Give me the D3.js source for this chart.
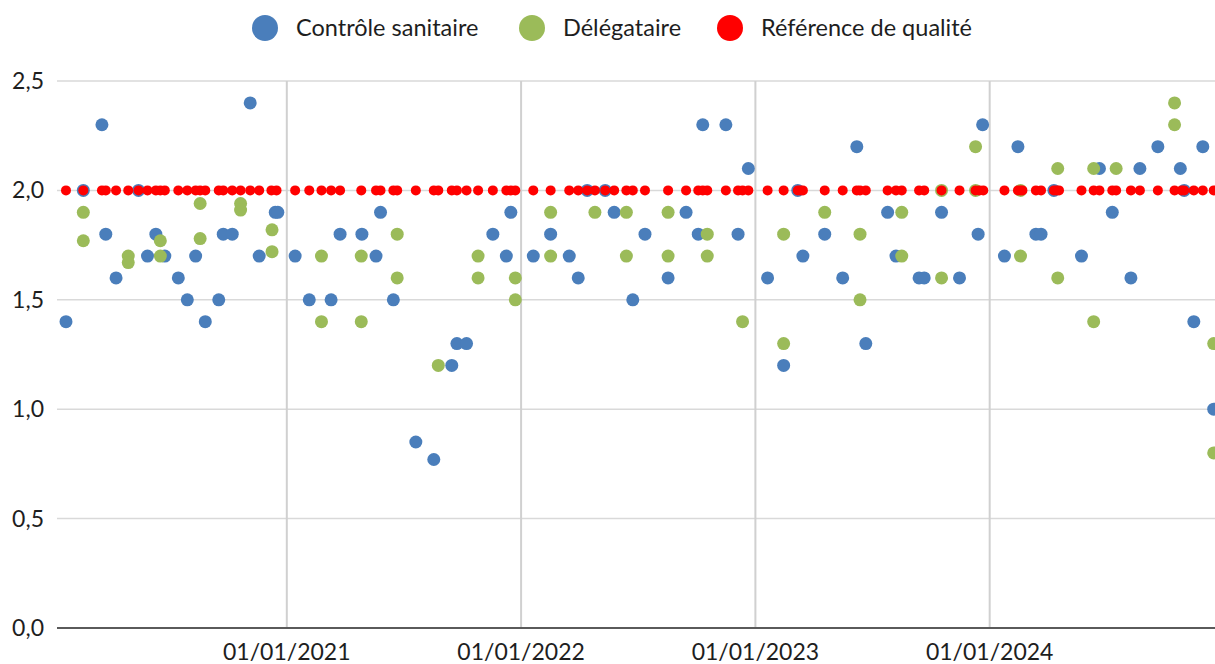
<!DOCTYPE html>
<html>
<head>
<meta charset="utf-8">
<script src="https://cdn.jsdelivr.net/npm/d3@7"></script>
<style>
  body { margin: 0; background: #fff; }
  svg { display: block; font-family: Lato, 'Open Sans', sans-serif; }
</style>
</head>
<body>
<svg id="chart" width="1215" height="664"></svg>
<script>
// Contrôle sanitaire (blue)
const controleDates = [
  '2020-01-23','2020-02-19','2020-03-19','2020-03-25','2020-04-10','2020-05-15','2020-05-29','2020-06-11','2020-06-25','2020-07-16',
  '2020-07-30','2020-08-12','2020-08-27','2020-09-17','2020-09-24','2020-10-08','2020-11-05','2020-11-19','2020-12-14','2020-12-18',
  '2021-01-14','2021-02-05','2021-03-11','2021-03-25','2021-04-28','2021-05-20','2021-05-27','2021-06-16','2021-07-21','2021-08-18',
  '2021-09-15','2021-09-23','2021-10-08','2021-11-18','2021-12-09','2021-12-16',
  '2022-01-20','2022-02-16','2022-03-17','2022-03-31','2022-04-14','2022-05-12','2022-05-26','2022-06-24','2022-07-13','2022-08-18',
  '2022-09-15','2022-10-04','2022-10-11','2022-11-16','2022-12-05','2022-12-21',
  '2023-01-20','2023-02-14','2023-03-08','2023-03-16','2023-04-19','2023-05-17','2023-06-08','2023-06-22','2023-07-26','2023-08-08',
  '2023-09-13','2023-09-21','2023-10-18','2023-11-15','2023-12-14','2023-12-21',
  '2024-01-24','2024-02-14','2024-03-13','2024-03-21','2024-04-10','2024-05-23','2024-06-20','2024-07-10','2024-08-08','2024-08-22',
  '2024-09-19','2024-10-24','2024-10-30','2024-11-14','2024-11-28','2024-12-15'
];
const controleValues = [
  1.4, 2.0, 2.3, 1.8, 1.6, 2.0, 1.7, 1.8, 1.7, 1.6,
  1.5, 1.7, 1.4, 1.5, 1.8, 1.8, 2.4, 1.7, 1.9, 1.9,
  1.7, 1.5, 1.5, 1.8, 1.8, 1.7, 1.9, 1.5, 0.85, 0.77,
  1.2, 1.3, 1.3, 1.8, 1.7, 1.9,
  1.7, 1.8, 1.7, 1.6, 2.0, 2.0, 1.9, 1.5, 1.8, 1.6,
  1.9, 1.8, 2.3, 2.3, 1.8, 2.1,
  1.6, 1.2, 2.0, 1.7, 1.8, 1.6, 2.2, 1.3, 1.9, 1.7,
  1.6, 1.6, 1.9, 1.6, 1.8, 2.3,
  1.7, 2.2, 1.8, 1.8, 2.0, 1.7, 2.1, 1.9, 1.6, 2.1,
  2.2, 2.1, 2.0, 1.4, 2.2, 1.0
];

// Délégataire (green)
const delegataireDates = [
  '2020-02-19','2020-02-19','2020-04-29','2020-04-29','2020-06-18','2020-06-18','2020-08-19','2020-08-19','2020-10-21','2020-10-21',
  '2020-12-09','2020-12-09',
  '2021-02-24','2021-02-24','2021-04-27','2021-04-27','2021-06-22','2021-06-22','2021-08-25','2021-10-26','2021-10-26','2021-12-23',
  '2021-12-23',
  '2022-02-16','2022-02-16','2022-04-26','2022-06-14','2022-06-14','2022-08-18','2022-08-18','2022-10-18','2022-10-18','2022-12-12',
  '2023-02-14','2023-02-14','2023-04-19','2023-06-13','2023-06-13','2023-08-17','2023-08-17','2023-10-18','2023-10-18','2023-12-10',
  '2023-12-10',
  '2024-02-18','2024-02-18','2024-04-16','2024-04-16','2024-06-11','2024-06-11','2024-07-16','2024-10-15','2024-10-15','2024-12-15',
  '2024-12-15'
];
const delegataireValues = [
  1.9, 1.77, 1.70, 1.67, 1.77, 1.70, 1.94, 1.78, 1.94, 1.91,
  1.82, 1.72,
  1.7, 1.4, 1.7, 1.4, 1.8, 1.6, 1.2, 1.7, 1.6, 1.6,
  1.5,
  1.9, 1.7, 1.9, 1.9, 1.7, 1.9, 1.7, 1.8, 1.7, 1.4,
  1.8, 1.3, 1.9, 1.8, 1.5, 1.9, 1.7, 2.0, 1.6, 2.2,
  2.0,
  2.0, 1.7, 2.1, 1.6, 2.1, 1.4, 2.1, 2.4, 2.3, 1.3,
  0.8
];

// Référence de qualité (red), constant value on every sampling date
const referenceValue = 2.0;
const referenceDates = [
  '2020-01-23','2020-02-19','2020-03-19','2020-03-25','2020-04-10','2020-04-29','2020-05-15','2020-05-29','2020-06-11','2020-06-18',
  '2020-06-25','2020-07-16','2020-07-30','2020-08-12','2020-08-19','2020-08-27','2020-09-17','2020-09-24','2020-10-08','2020-10-21',
  '2020-11-05','2020-11-19','2020-12-08','2020-12-16',
  '2021-01-14','2021-02-05','2021-02-24','2021-03-11','2021-03-25','2021-04-27','2021-05-20','2021-05-27','2021-06-16','2021-06-22',
  '2021-07-21','2021-08-18','2021-08-25','2021-09-15','2021-09-23','2021-10-08','2021-10-26','2021-11-18','2021-12-09','2021-12-16',
  '2021-12-23',
  '2022-01-20','2022-02-16','2022-03-17','2022-03-31','2022-04-14','2022-04-26','2022-05-12','2022-05-26','2022-06-14','2022-06-24',
  '2022-07-13','2022-08-18','2022-09-15','2022-10-04','2022-10-11','2022-10-18','2022-11-16','2022-12-05','2022-12-12','2022-12-21',
  '2023-01-20','2023-02-14','2023-03-08','2023-03-12','2023-03-16','2023-04-19','2023-05-17','2023-06-08','2023-06-13','2023-06-22',
  '2023-07-26','2023-08-08','2023-08-17','2023-09-13','2023-09-21','2023-10-18','2023-11-15','2023-12-10','2023-12-16','2023-12-22',
  '2024-01-24','2024-02-14','2024-02-18','2024-02-21','2024-03-13','2024-03-21','2024-04-10','2024-04-14','2024-04-18','2024-05-23',
  '2024-06-11','2024-06-20','2024-07-10','2024-07-16','2024-08-08','2024-08-22','2024-09-19','2024-10-15','2024-10-26','2024-10-30',
  '2024-11-14','2024-11-28','2024-12-15'
];

// Axes
const xDomain = ['2020-01-09', '2024-12-17'];
const xTickDates = ['2021-01-01', '2022-01-01', '2023-01-01', '2024-01-01'];
const yTicks = [0, 0.5, 1.0, 1.5, 2.0, 2.5];

const legendItems = [
  { label: 'Contrôle sanitaire', color: '#4a7ebb' },
  { label: 'Délégataire', color: '#9bbb59' },
  { label: 'Référence de qualité', color: '#ff0000' }
];

const parse = d3.utcParse('%Y-%m-%d');
const width = 1215;
const height = 664;
const margin = { top: 81, right: 0, bottom: 36, left: 57 };

const svg = d3.select('#chart');

const x = d3.scaleUtc()
  .domain(xDomain.map(parse))
  .range([margin.left, width - margin.right]);

const y = d3.scaleLinear()
  .domain([0, 2.5])
  .range([height - margin.bottom, margin.top]);

const fmt = d3.formatLocale({ decimal: ',', thousands: ' ', grouping: [3], currency: ['', ' €'] }).format('.1f');

// horizontal gridlines
svg.append('g')
  .selectAll('line')
  .data(yTicks.filter(d => d > 0))
  .enter()
  .append('line')
  .attr('x1', margin.left)
  .attr('x2', width)
  .attr('y1', d => y(d))
  .attr('y2', d => y(d))
  .attr('stroke', '#d9d9d9')
  .attr('stroke-width', 1.5);

// vertical gridlines at year starts
svg.append('g')
  .selectAll('line')
  .data(xTickDates.map(parse))
  .enter()
  .append('line')
  .attr('x1', d => x(d))
  .attr('x2', d => x(d))
  .attr('y1', y(2.5))
  .attr('y2', y(0))
  .attr('stroke', '#d0d0d0')
  .attr('stroke-width', 2);

// baseline
svg.append('line')
  .attr('x1', margin.left)
  .attr('x2', width)
  .attr('y1', y(0))
  .attr('y2', y(0))
  .attr('stroke', '#5a5a5a')
  .attr('stroke-width', 2);

// y labels
svg.append('g')
  .selectAll('text')
  .data(yTicks)
  .enter()
  .append('text')
  .attr('x', 44)
  .attr('y', d => y(d) + 8)
  .attr('text-anchor', 'end')
  .style('font-size', '23px')
  .style('fill', '#1e1e1e')
  .text(d => fmt(d));

// x labels
svg.append('g')
  .selectAll('text')
  .data(xTickDates.map(parse))
  .enter()
  .append('text')
  .attr('x', d => x(d))
  .attr('y', 660)
  .attr('text-anchor', 'middle')
  .style('font-size', '23px')
  .style('fill', '#1e1e1e')
  .text(d => d3.utcFormat('%d/%m/%Y')(d));

// points
const controle = controleDates.map((d, i) => ({ date: parse(d), value: controleValues[i] }));
const delegataire = delegataireDates.map((d, i) => ({ date: parse(d), value: delegataireValues[i] }));
const reference = referenceDates.map(d => ({ date: parse(d), value: referenceValue }));

function drawSeries(data, color, r) {
  svg.append('g')
    .selectAll('circle')
    .data(data)
    .enter()
    .append('circle')
    .attr('cx', d => x(d.date))
    .attr('cy', d => y(d.value))
    .attr('r', r)
    .attr('fill', color);
}
drawSeries(controle, legendItems[0].color, 6.5);
drawSeries(delegataire, legendItems[1].color, 6.5);
drawSeries(reference, legendItems[2].color, 5);

// legend
const legendX = [265, 532, 730];
const legend = svg.append('g')
  .selectAll('g')
  .data(legendItems)
  .enter()
  .append('g')
  .attr('transform', (d, i) => `translate(${legendX[i]}, 28)`);
legend.append('circle')
  .attr('r', 13)
  .attr('fill', d => d.color);
legend.append('text')
  .attr('x', 31)
  .attr('y', 8)
  .style('font-size', '23.5px')
  .style('fill', '#1e1e1e')
  .text(d => d.label);
</script>
</body>
</html>
